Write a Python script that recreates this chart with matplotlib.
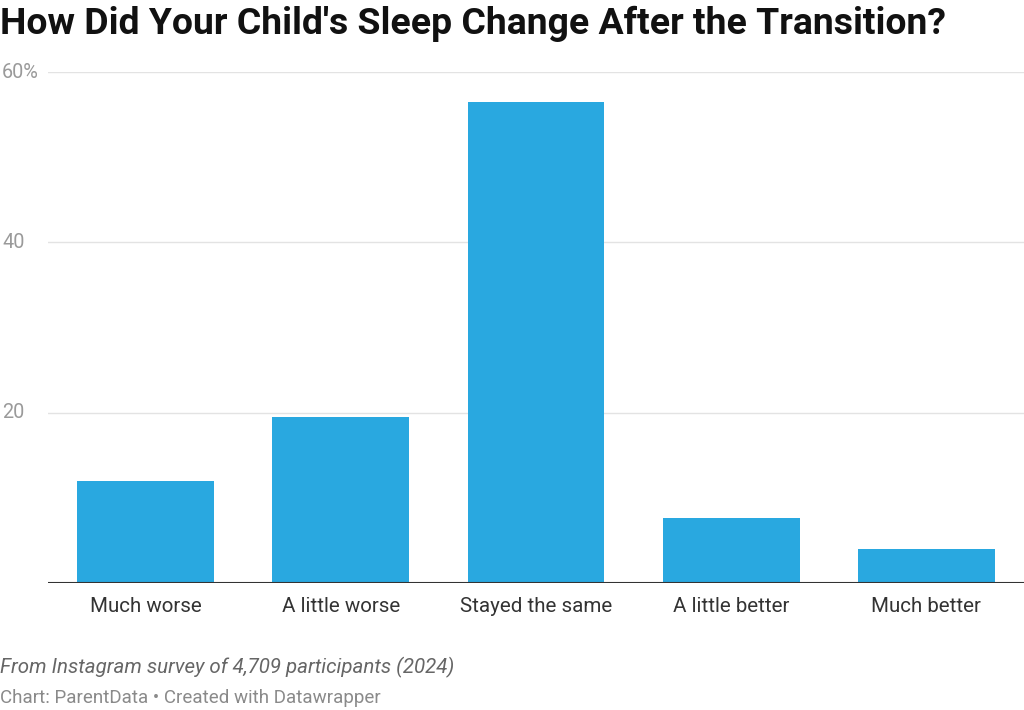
import matplotlib.pyplot as plt

categories = ['Much worse', 'A little worse', 'Stayed the same', 'A little better', 'Much better']
values = [12.0, 19.5, 56.5, 7.6, 4.0]
ytick_vals = [20, 40, 60]
ytick_labels = ['20', '40', '60%']

plt.rcParams['font.family'] = ['Roboto', 'DejaVu Sans']

fig = plt.figure(figsize=(10.24, 7.1), dpi=100)
ax = fig.add_axes([48 / 1024, 127 / 710, 976 / 1024, 511 / 710])

x = range(len(categories))
ax.bar(x, values, width=0.70, color='#29a8e0', zorder=3)

ax.set_xlim(-0.5, len(categories) - 0.5)
ax.set_ylim(0, 60)

# grid lines
for v in ytick_vals:
    ax.axhline(v, color='#e3e3e3', lw=1, zorder=1)
ax.axhline(0, color='#333333', lw=1.5, zorder=4)

for s in ax.spines.values():
    s.set_visible(False)

ax.set_yticks([])
for v, lab in zip(ytick_vals, ytick_labels):
    fig.text(2 / 1024, (710 - (583 - v * 511 / 60)) / 710, lab, ha='left', va='center',
             fontsize=14.3, color='#9a9a9a')

ax.set_xticks(list(x))
ax.set_xticklabels(categories, fontsize=14.8, color='#333333')
ax.tick_params(axis='x', length=0, pad=10)

fig.text(0, 1 - 24 / 710, "How Did Your Child's Sleep Change After the Transition?",
         ha='left', va='center', fontsize=26.9, fontweight='bold', color='#111111')
fig.text(0, 1 - 667 / 710, 'From Instagram survey of 4,709 participants (2024)',
         ha='left', va='center', fontsize=14.8, style='italic', color='#666666')
fig.text(0, 1 - 698 / 710, 'Chart: ParentData \u2022 Created with Datawrapper',
         ha='left', va='center', fontsize=13.5, color='#8a8a8a')

fig.savefig('out.png', dpi=100)
